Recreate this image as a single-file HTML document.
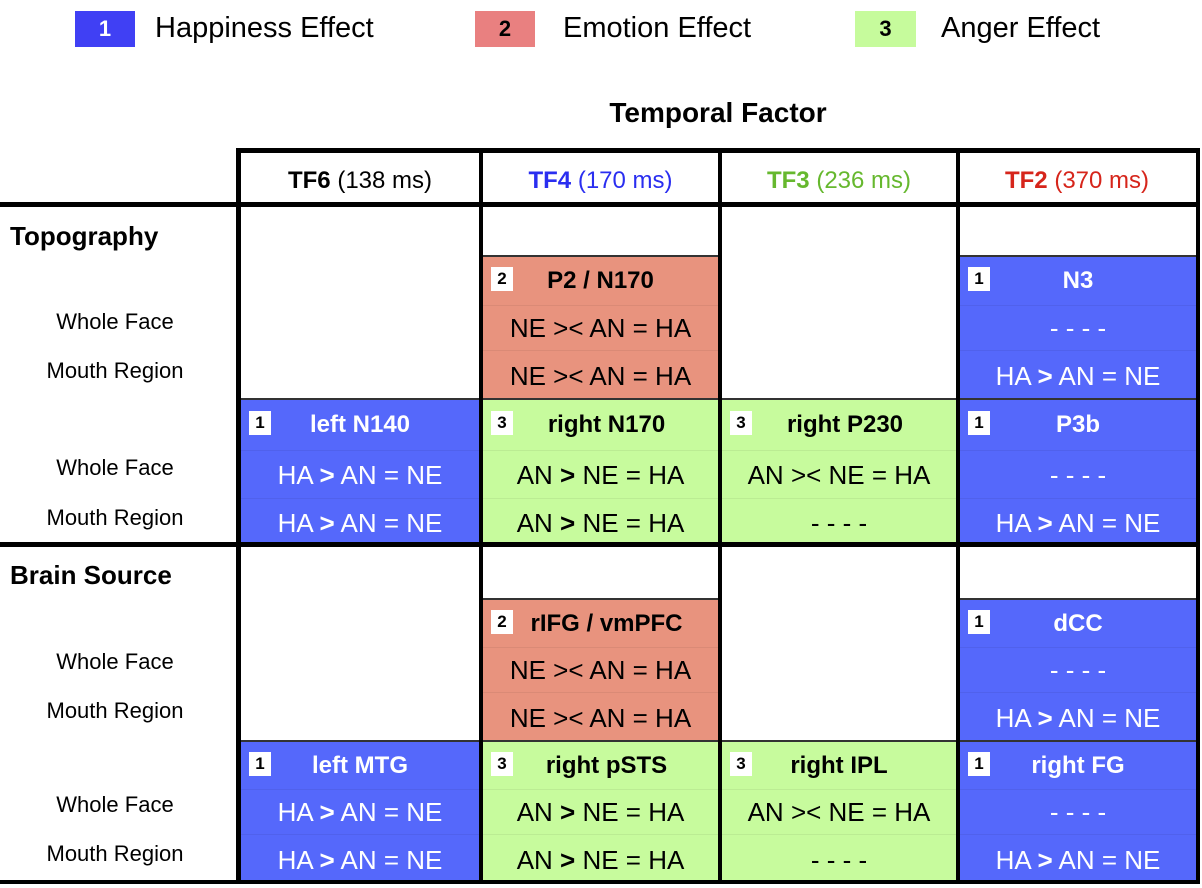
<!DOCTYPE html>
<html><head><meta charset="utf-8">
<style>
body{margin:0;width:1202px;height:888px;background:#fff;position:relative;overflow:hidden;font-family:"Liberation Sans",Arial,sans-serif;color:#000}
.a{position:absolute}
.hl{position:absolute;background:#000}
.lab{position:absolute;font-size:22px;text-align:center;width:230px;left:0}
.sec{position:absolute;left:10px;font-size:26px;font-weight:bold}
.cell{position:absolute;box-sizing:border-box;border-top:2px solid #333}
.sub{position:absolute;left:0;right:0;text-align:center;font-size:26px}
.ttl{font-weight:bold;font-size:24px}
.badge{position:absolute;left:8px;width:22px;height:24px;background:#fff;color:#000;font-weight:bold;font-size:17px;text-align:center;line-height:24px}
.hdr{position:absolute;top:150px;height:55px;line-height:62px;text-align:center;font-size:24px}
</style></head><body>
<div class="a" style="left:0;top:0;width:1202px;height:60px">
 <div class="a" style="left:75px;top:11px;width:60px;height:36px;background:#4040f4;color:#fff;font-size:22px;font-weight:bold;text-align:center;line-height:36px">1</div>
 <div class="a" style="left:155px;top:12px;font-size:29px">Happiness Effect</div>
 <div class="a" style="left:475px;top:11px;width:60px;height:36px;background:#e98080;font-size:22px;font-weight:bold;text-align:center;line-height:36px">2</div>
 <div class="a" style="left:563px;top:12px;font-size:29px">Emotion Effect</div>
 <div class="a" style="left:855px;top:11px;width:61px;height:36px;background:#c6fb9c;font-size:22px;font-weight:bold;text-align:center;line-height:36px">3</div>
 <div class="a" style="left:941px;top:12px;font-size:29px">Anger Effect</div>
</div>
<div class="a" style="left:518px;width:400px;text-align:center;top:97px;font-size:28px;font-weight:bold">Temporal Factor</div>

<div class="hdr" style="left:240px;width:240px"><b>TF6</b> (138 ms)</div>
<div class="hdr" style="left:481px;width:239px;color:#2a2ef0"><b>TF4</b> (170 ms)</div>
<div class="hdr" style="left:720px;width:238px;color:#66b82e"><b>TF3</b> (236 ms)</div>
<div class="hdr" style="left:958px;width:238px;color:#d6251b"><b>TF2</b> (370 ms)</div>

<div id="cells"></div>

<div class="sec" style="top:221px">Topography</div>
<div class="sec" style="top:560px">Brain Source</div>
<div class="lab" style="top:309px">Whole Face</div>
<div class="lab" style="top:358px">Mouth Region</div>
<div class="lab" style="top:455px">Whole Face</div>
<div class="lab" style="top:505px">Mouth Region</div>
<div class="lab" style="top:649px">Whole Face</div>
<div class="lab" style="top:698px">Mouth Region</div>
<div class="lab" style="top:792px">Whole Face</div>
<div class="lab" style="top:841px">Mouth Region</div>

<div class="hl" style="left:236px;top:148px;width:964px;height:5px"></div>
<div class="hl" style="left:0;top:202px;width:1200px;height:5px"></div>
<div class="hl" style="left:0;top:542px;width:1200px;height:5px"></div>
<div class="hl" style="left:0;top:880px;width:1200px;height:4px"></div>
<div class="hl" style="left:236px;top:148px;width:5px;height:736px"></div>
<div class="hl" style="left:479px;top:148px;width:4px;height:736px"></div>
<div class="hl" style="left:718px;top:148px;width:4px;height:736px"></div>
<div class="hl" style="left:956px;top:148px;width:4px;height:736px"></div>
<div class="hl" style="left:1196px;top:148px;width:4px;height:736px"></div>

<script>
var colX=[241,483,722,960];
var colW=[238,235,234,236];
var fills={1:'#5568fb',2:'#e8937e',3:'#c7fb9d'};
var sections=[
 {A:[255,303,348,398],B:[398,448,496,545],cells:[
  [null,{c:1,t:'left N140',l:['HA > AN = NE','HA > AN = NE']}],
  [{c:2,t:'P2 / N170',l:['NE < AN = HA','NE < AN = HA']},{c:3,t:'right N170',l:['AN > NE = HA','AN > NE = HA']}],
  [null,{c:3,t:'right P230',l:['AN < NE = HA','- - - -']}],
  [{c:1,t:'N3',l:['- - - -','HA > AN = NE']},{c:1,t:'P3b',l:['- - - -','HA > AN = NE']}]]},
 {A:[598,645,690,740],B:[740,787,832,882],cells:[
  [null,{c:1,t:'left MTG',l:['HA > AN = NE','HA > AN = NE']}],
  [{c:2,t:'rIFG / vmPFC',l:['NE < AN = HA','NE < AN = HA']},{c:3,t:'right pSTS',l:['AN > NE = HA','AN > NE = HA']}],
  [null,{c:3,t:'right IPL',l:['AN < NE = HA','- - - -']}],
  [{c:1,t:'dCC',l:['- - - -','HA > AN = NE']},{c:1,t:'right FG',l:['- - - -','HA > AN = NE']}]]}
];
var root=document.getElementById('cells');
function fmt(s){return s.replace('<','<b>&lt;</b>').replace('>','<b>&gt;</b>');}
sections.forEach(function(sec){
 sec.cells.forEach(function(col,ci){
  col.forEach(function(d,ri){
   if(!d) return;
   var r=ri===0?sec.A:sec.B;
   var el=document.createElement('div');
   el.className='cell';
   
   
   el.style.left=colX[ci]+'px';el.style.width=colW[ci]+'px';
   el.style.top=r[0]+'px';el.style.height=(r[3]-r[0])+'px';
   el.style.background=fills[d.c];
   el.style.color=d.c===1?'#fff':'#000';
   var b=document.createElement('div');
   b.className='badge';
   
   
   b.textContent=d.c;
   b.style.top=((r[1]-r[0])/2-14)+'px';
   el.appendChild(b);
   var t=document.createElement('div');
   t.className='sub ttl';
   
   
   t.textContent=d.t;
   t.style.top='0px';t.style.height=(r[1]-r[0])+'px';t.style.lineHeight=(r[1]-r[0])+'px';
   if(d.t.length>9){t.style.paddingLeft='12px';}
   el.appendChild(t);
   for(var k=0;k<2;k++){
    var s=document.createElement('div');
    s.className='sub';
    
    
    s.innerHTML=fmt(d.l[k]);
    s.style.top=(r[k+1]-r[0])+'px';s.style.height=(r[k+2]-r[k+1])+'px';s.style.lineHeight=(r[k+2]-r[k+1])+'px';
    s.style.borderTop='1px solid rgba(0,0,0,0.06)';
    el.appendChild(s);
   }
   root.appendChild(el);
  });
 });
});
</script>
</body></html>
